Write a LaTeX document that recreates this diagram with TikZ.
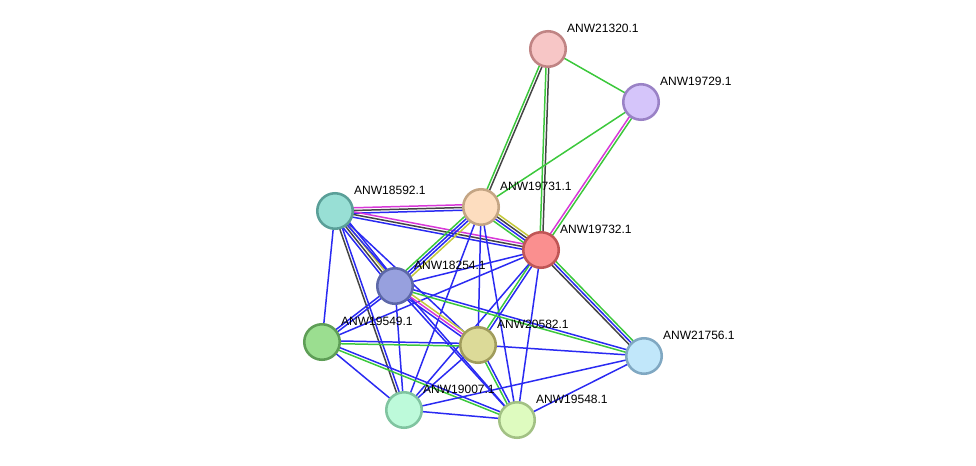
\documentclass[tikz,border=0pt]{standalone}
\usepackage{fontspec}
\setmainfont{Liberation Sans}
\usetikzlibrary{calc}

%% evidence colours
\definecolor{nbh}{HTML}{3CC83C}
\definecolor{cooc}{HTML}{2A2AF2}
\definecolor{coexp}{HTML}{444444}
\definecolor{exper}{HTML}{D838D8}
\definecolor{txt}{HTML}{C4C83A}

%% protein colours (fill / rim)
\definecolor{f21320}{HTML}{F7C6C6}\definecolor{r21320}{HTML}{C08484}
\definecolor{f19729}{HTML}{D5C5FA}\definecolor{r19729}{HTML}{9A82C6}
\definecolor{f19731}{HTML}{FDDDBF}\definecolor{r19731}{HTML}{C4A584}
\definecolor{f19732}{HTML}{FA8F8F}\definecolor{r19732}{HTML}{C05656}
\definecolor{f18592}{HTML}{98DFD5}\definecolor{r18592}{HTML}{5A9F98}
\definecolor{f18254}{HTML}{97A0DE}\definecolor{r18254}{HTML}{5D68A8}
\definecolor{f19549}{HTML}{9BDE90}\definecolor{r19549}{HTML}{5E9E56}
\definecolor{f20582}{HTML}{DCDA98}\definecolor{r20582}{HTML}{A09C5C}
\definecolor{f21756}{HTML}{C1E7FA}\definecolor{r21756}{HTML}{80A8C2}
\definecolor{f19007}{HTML}{BDFADA}\definecolor{r19007}{HTML}{80C4A0}
\definecolor{f19548}{HTML}{DEFBBF}\definecolor{r19548}{HTML}{A2C184}

\pgfdeclarelayer{links}
\pgfsetlayers{links,main}

%% parallel coloured lines between two proteins
\newcommand{\plink}[3]{%
  \foreach \lc [count=\n] in {#3} {\xdef\nlines{\n}}%
  \foreach \lc [count=\i] in {#3} {%
    \pgfmathsetmacro{\off}{(\i-(\nlines+1)/2)*1.55}%
    \draw[link, draw=\lc] ($(#1)!\off pt!90:(#2)$) -- ($(#2)!\off pt!-90:(#1)$);
  }%
}

\begin{document}
\begin{tikzpicture}[
  x=0.02cm, y=-0.02cm,
  prot/.style 2 args={circle, minimum size=0.71cm, inner sep=0pt,
    line width=1.45pt, fill=#1, draw=#2},
  lbl/.style={anchor=base west, inner sep=0pt, yshift=-0.04cm,
    font=\fontsize{6.85}{8}\selectfont},
  label distance=0.15cm,
  link/.style={line width=0.85pt}
]
\useasboundingbox (0,0) rectangle (976,466);

%% Proteins
\node[prot={f21320}{r21320}, label={[lbl]45:ANW21320.1}] (p21320) at (548,49) {};
\node[prot={f19729}{r19729}, label={[lbl]45:ANW19729.1}] (p19729) at (641,102) {};
\node[prot={f19731}{r19731}, label={[lbl]45:ANW19731.1}] (p19731) at (481,207) {};
\node[prot={f19732}{r19732}, label={[lbl]45:ANW19732.1}] (p19732) at (541,250) {};
\node[prot={f18592}{r18592}, label={[lbl]45:ANW18592.1}] (p18592) at (335,211) {};
\node[prot={f18254}{r18254}, label={[lbl]45:ANW18254.1}] (p18254) at (395,286) {};
\node[prot={f19549}{r19549}, label={[lbl]45:ANW19549.1}] (p19549) at (322,342) {};
\node[prot={f20582}{r20582}, label={[lbl]45:ANW20582.1}] (p20582) at (478,345) {};
\node[prot={f21756}{r21756}, label={[lbl]45:ANW21756.1}] (p21756) at (644,356) {};
\node[prot={f19007}{r19007}, label={[lbl]45:ANW19007.1}] (p19007) at (404,410) {};
\node[prot={f19548}{r19548}, label={[lbl]45:ANW19548.1}] (p19548) at (517,420) {};

%% Links (behind the proteins)
\begin{pgfonlayer}{links}
\plink{p21320}{p19731}{nbh,coexp}
\plink{p21320}{p19732}{nbh,coexp}
\plink{p21320}{p19729}{nbh}
\plink{p19729}{p19731}{nbh}
\plink{p19729}{p19732}{exper,nbh}

\plink{p18592}{p19731}{cooc,coexp,exper}
\plink{p18592}{p19732}{cooc,coexp,exper}
\plink{p19731}{p19732}{nbh,cooc,coexp,txt}
\plink{p19731}{p18254}{nbh,cooc,cooc,txt}
\plink{p18592}{p18254}{cooc,coexp,txt,cooc}
\plink{p18592}{p19549}{cooc}
\plink{p18592}{p19007}{coexp,cooc}
\plink{p18592}{p20582}{cooc}
\plink{p18592}{p19548}{cooc}

\plink{p19731}{p19007}{cooc}
\plink{p19731}{p20582}{cooc}
\plink{p19731}{p19548}{cooc}

\plink{p19732}{p18254}{cooc}
\plink{p19732}{p19549}{cooc}
\plink{p19732}{p20582}{nbh,cooc}
\plink{p19732}{p21756}{coexp,cooc,nbh}
\plink{p19732}{p19548}{cooc}
\plink{p19732}{p19007}{cooc}

\plink{p18254}{p20582}{cooc,exper,txt}
\plink{p18254}{p21756}{nbh,cooc}
\plink{p18254}{p19548}{cooc}
\plink{p18254}{p19007}{cooc}
\plink{p18254}{p19549}{cooc,cooc}

\plink{p19549}{p20582}{nbh,cooc}
\plink{p19549}{p19007}{cooc}
\plink{p19549}{p19548}{nbh,cooc}
\plink{p20582}{p19007}{cooc}
\plink{p20582}{p19548}{nbh,cooc}
\plink{p20582}{p21756}{cooc}
\plink{p21756}{p19007}{cooc}
\plink{p21756}{p19548}{cooc}
\plink{p19007}{p19548}{cooc}
\end{pgfonlayer}

\end{tikzpicture}
\end{document}
